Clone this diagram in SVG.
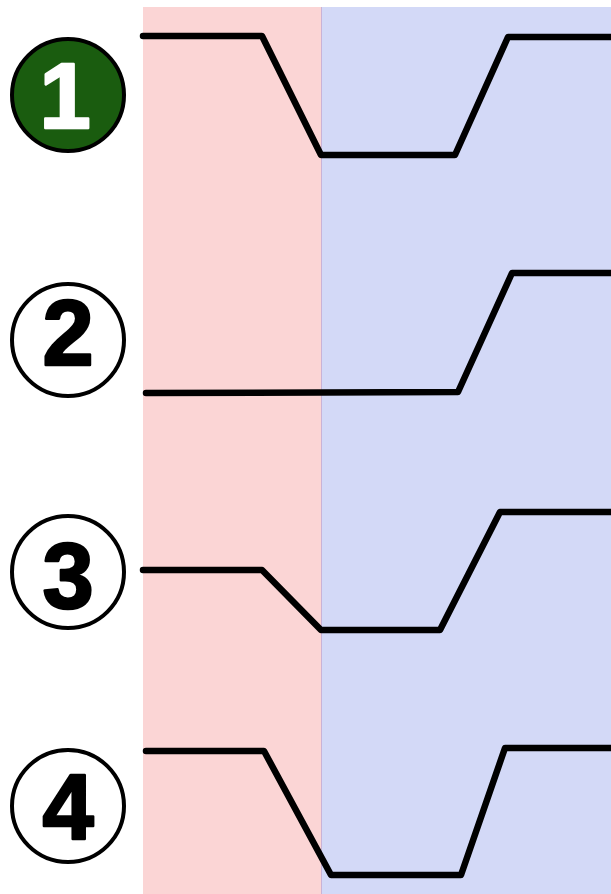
<svg xmlns="http://www.w3.org/2000/svg" width="611" height="894" viewBox="0 0 611 894">
<style>
.badge{stroke:#000;stroke-width:4}
.num{font-family:"Liberation Sans",Arial,sans-serif;font-weight:bold;font-size:92px;text-anchor:middle;stroke-width:2.5;stroke-linejoin:round}
.wave{fill:none;stroke:#000;stroke-width:6.5;stroke-linecap:round;stroke-linejoin:round}
</style>
<rect x="0" y="0" width="611" height="894" fill="#fff"/>
<g id="zones">
<rect x="143" y="7" width="178" height="887" fill="#fbd5d5"/>
<rect x="321" y="7" width="290" height="887" fill="#d3d9f7"/>
<line x1="321.5" y1="7" x2="321.5" y2="894" stroke="#c9b3d6" stroke-width="1"/>
</g>
<g id="node1"><circle class="badge" cx="68" cy="95" r="56" fill="#1a5c0f"/><text class="num" x="65" y="128" fill="#fff" stroke="#fff">1</text></g>
<g id="node2"><circle class="badge" cx="68" cy="340" r="56" fill="#fff"/><text class="num" x="68" y="365" fill="#000" stroke="#000">2</text></g>
<g id="node3"><circle class="badge" cx="68" cy="572" r="56" fill="#fff"/><text class="num" x="68" y="608" fill="#000" stroke="#000">3</text></g>
<g id="node4"><circle class="badge" cx="68" cy="806" r="56" fill="#fff"/><text class="num" x="68" y="839" fill="#000" stroke="#000">4</text></g>
<g id="connectors">
<polyline class="wave" points="143,36 262,36 321,155 455,155 508,37 614,37"/>
<polyline class="wave" points="146,393 458,392 512,273 614,273"/>
<polyline class="wave" points="143,570 262,570 321,630 440,630 500,512 614,512"/>
<polyline class="wave" points="146,751 264,751 331,875 461,875 505,748 614,748"/>
</g>
</svg>
